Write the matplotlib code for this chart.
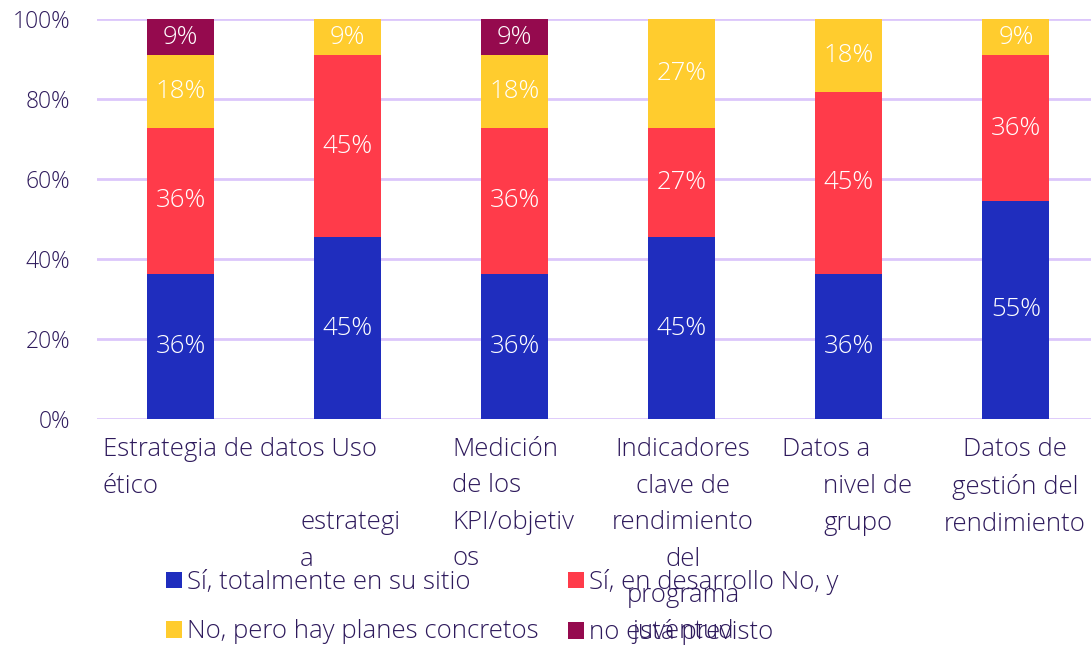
import matplotlib.pyplot as plt
import numpy as np

categorias = ['Estrategia de datos', 'Uso ético estrategia', 'Medición de los KPI/objetivos',
              'Indicadores clave de rendimiento del programa juventud',
              'Datos a nivel de grupo', 'Datos de gestión del rendimiento']
series = ['Sí, totalmente en su sitio', 'Sí, en desarrollo No, y',
          'No, pero hay planes concretos', 'no está previsto']
totalmente = [36.36, 45.45, 36.36, 45.45, 36.36, 54.55]
desarrollo = [36.36, 45.45, 36.36, 27.27, 45.45, 36.36]
planes = [18.18, 9.09, 18.18, 27.27, 18.18, 9.09]
no_previsto = [9.09, 0, 9.09, 0, 0, 0]
yticks = [0, 20, 40, 60, 80, 100]

colores = ['#1f2dbe', '#ff3b4a', '#ffcc2e', '#950a4e']
texto = '#2e1a5c'
fuente = 'Open Sans'
peso = 'light'

W, H = 1091, 645
fig = plt.figure(figsize=(W / 100, H / 100), dpi=100)
ax = fig.add_axes([97 / W, 1 - 419 / H, 1 - 97 / W, (419 - 19) / H])

x = np.arange(len(categorias))
abajo = np.zeros(len(categorias))
barras = []
for vals, col, nombre in zip([totalmente, desarrollo, planes, no_previsto], colores, series):
    b = ax.bar(x, vals, 0.4, bottom=abajo, color=col, label=nombre, zorder=3)
    etiquetas = ['%.0f%%' % v if v > 0 else '' for v in vals]
    ax.bar_label(b, labels=etiquetas, label_type='center', color='white',
                 fontsize=18.5, family=fuente, weight=peso)
    abajo += np.array(vals)
    barras.append(b)

ax.set_ylim(0, 100)
ax.set_xlim(-0.5, 5.45)
ax.set_yticks(yticks)
ax.set_yticklabels(['%d%%' % t for t in yticks], color=texto, fontsize=16.5,
                   family=fuente, weight=peso)
ax.set_xticks([])
ax.tick_params(axis='y', length=0, pad=19)
ax.grid(axis='y', color='#dcc6fb', linewidth=2, zorder=0)
for s in ax.spines.values():
    s.set_visible(False)

# etiquetas de categoria tal como quedaron en el original (desordenadas)
def txt(px, py, s, ha='left'):
    fig.text(px / W, 1 - py / H, s, ha=ha, va='center', color=texto, fontsize=18.5,
             family=fuente, weight=peso, linespacing=1.6)

txt(103, 468, 'Estrategia de datos Uso\nético')
txt(300, 541, 'estrategi\na')
txt(452, 504, 'Medición\nde los\nKPI/objetiv\nos')
txt(683, 541, 'Indicadores\nclave de\nrendimiento\ndel\nprograma\njuventud', ha='center')
txt(782, 450, 'Datos a')
txt(823, 505, 'nivel de\ngrupo')
txt(1015, 487, 'Datos de\ngestión del\nrendimiento', ha='center')

orden = [barras[0], barras[2], barras[1], barras[3]]
fig.legend(orden, [series[0], series[2], series[1], series[3]], ncol=2,
           loc='upper left', bbox_to_anchor=(166 / W, 1 - 569 / H), frameon=False,
           prop={'family': fuente, 'size': 18.5, 'weight': peso}, labelcolor=texto,
           handlelength=0.62, handleheight=0.62, handletextpad=0.2,
           columnspacing=1.15, labelspacing=0.95, borderpad=0, borderaxespad=0)

fig.savefig('out.png', dpi=100)
